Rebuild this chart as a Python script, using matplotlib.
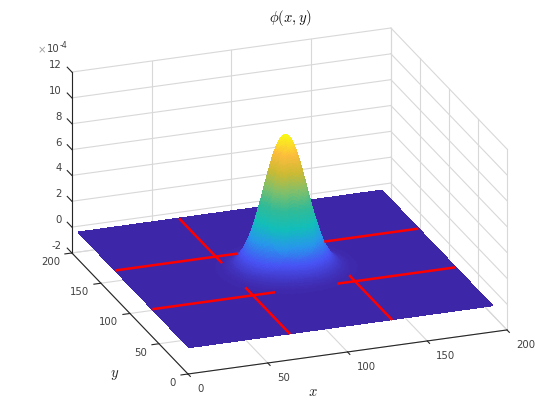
import numpy as np
import matplotlib
matplotlib.use("Agg")
import matplotlib.pyplot as plt
from matplotlib.colors import LinearSegmentedColormap, Normalize
from mpl_toolkits.mplot3d import proj3d

# ---- data ----
x_ticks = [0, 50, 100, 150, 200]
y_ticks = [0, 50, 100, 150, 200]
z_ticks = [-2, 0, 2, 4, 6, 8, 10, 12]
peak_centre = 96
peak_height = 10.35
# distance from the bump's centre and its height there, relative to the top
bump_dist = np.concatenate([np.arange(0, 30, 0.5), np.arange(30, 51)])
bump_rel = [1.000, .9992, .9968, .9928, .9873, .9802, .9716, .9616, .9501, .9373,
            .9231, .9077, .8912, .8735, .8549, .8353, .8149, .7936, .7717, .7491,
            .7261, .7027, .6788, .6550, .6308, .6065, .5823, .5581, .5341, .5103,
            .4868, .4636, .4408, .4184, .3966, .3753, .3546, .3345, .3150, .2962,
            .2780, .2606, .2438, .2278, .2125, .1979, .1840, .1708, .1583, .1465,
            .1353, .1248, .1149, .1057, .0970, .0889, .0814, .0743, .0678, .0617,
            .0561, .0462, .0377, .0307, .0247, .0198, .0158, .0125, .0098, .0077,
            .0060, .0046, .0035, .0027, .0020, .0015, .0011, .0008, .0006, .0004,
            .0003]
plane_left = np.arange(1, 46, 2)
plane_right = np.arange(147, 192, 2)
# visible pieces of the red lines: (fixed coordinate, start, end)
red_along_x = [(128, 1, 78), (128, 132, 191), (64, 1, 78), (64, 117, 191)]
red_along_y = [(64, 117, 191), (64, 0, 77), (128, 0, 74)]
parula_stops = [(.2422, .1504, .6603), (.2810, .3228, .9579), (.1540, .5902, .9218),
                (.0704, .7457, .7258), (.1959, .7310, .5900), (.5000, .7500, .4200),
                (.8000, .7300, .2000), (.9900, .7400, .2400), (.9769, .9839, .0805)]

# ---- surface table ----
rel = np.array(bump_rel)
axis_vals = np.concatenate([plane_left, peak_centre - bump_dist[:0:-1],
                            peak_centre + bump_dist, plane_right])
axis_prof = np.concatenate([np.zeros(plane_left.size), rel[:0:-1], rel,
                            np.zeros(plane_right.size)])
Z = peak_height * np.outer(axis_prof, axis_prof)
X, Y = np.meshgrid(axis_vals, axis_vals)

# ---- figure ----
TXT = "#404040"
GRID = "#d8d8d8"
AXC = "#262626"
FS = 7.3
plt.rcParams["mathtext.fontset"] = "cm"
W, H = 560, 420
fig = plt.figure(figsize=(W / 100, H / 100), dpi=100)
ax = fig.add_axes([0.1, 0.1, 0.8, 0.8 * W / H], projection="3d", proj_type="ortho",
                  computed_zorder=False)
ax.view_init(elev=22.3, azim=-110)
ax.set_box_aspect((1, 1, 0.576))
ax.set_xlim(0, 200, view_margin=0)
ax.set_ylim(0, 200, view_margin=0)
ax.set_zlim(-2, 12, view_margin=0)
ax.set_axis_off()


def to_px(x, y, z):
    u, v, _ = proj3d.proj_transform(x, y, z, ax.get_proj())
    p = ax.transData.transform((u, v))
    return np.array([p[0], H - p[1]])


# place the box so its corners land where the reference has them
target_a = np.array([188.0, 374.0])   # x=0,   y=0,   z=-2
target_b = np.array([507.0, 330.0])   # x=200, y=0,   z=-2
for _ in range(3):
    fig.canvas.draw()
    a, b = to_px(0, 0, -2), to_px(200, 0, -2)
    pos = ax.get_position(original=True)
    scale = (target_b[0] - target_a[0]) / (b[0] - a[0])
    w_px, h_px = pos.width * W * scale, pos.height * H * scale
    cx = pos.x0 * W + pos.width * W / 2
    cy = H - (pos.y0 * H + pos.height * H / 2)
    new_cx = target_a[0] + (cx - a[0]) * scale
    new_cy = target_a[1] + (cy - a[1]) * scale
    ax.set_position([(new_cx - w_px / 2) / W, (H - new_cy - h_px / 2) / H, w_px / W, h_px / H])
fig.canvas.draw()


def label_px(px, py, s, ha):
    fig.text(px / W, 1 - py / H, s, color=TXT, fontsize=FS, ha=ha, va="center")


# grid lines on floor and the two back walls
gkw = dict(color=GRID, lw=0.8, zorder=1)
for t in x_ticks:
    ax.plot([t, t], [0, 200], [-2, -2], **gkw)
    ax.plot([t, t], [200, 200], [-2, 12], **gkw)
for t in y_ticks:
    ax.plot([0, 200], [t, t], [-2, -2], **gkw)
    ax.plot([200, 200], [t, t], [-2, 12], **gkw)
for t in z_ticks:
    ax.plot([0, 200], [200, 200], [t, t], **gkw)
    ax.plot([200, 200], [0, 200], [t, t], **gkw)

# surface
parula = LinearSegmentedColormap.from_list("parula_like", parula_stops, N=256)
colors = parula(Normalize(0, peak_height)(Z))
ax.plot_surface(X, Y, Z, rstride=1, cstride=1, facecolors=colors, shade=False,
                antialiased=False, linewidth=0.5, zorder=2)

# red lines
rkw = dict(color="#ff0000", lw=1.8, zorder=3, solid_capstyle="butt")
for y0, s, e in red_along_x:
    ax.plot([s, e], [y0, y0], [0, 0], **rkw)
for x0, s, e in red_along_y:
    ax.plot([x0, x0], [s, e], [0, 0], **rkw)

# axes lines, ticks and tick labels
akw = dict(color=AXC, lw=0.8, zorder=4)
ax.plot([0, 200], [0, 0], [-2, -2], **akw)
ax.plot([0, 0], [0, 200], [-2, -2], **akw)
ax.plot([0, 0], [200, 200], [-2, 12], **akw)
for t in x_ticks:
    ax.plot([t, t], [0, -4], [-2, -2], **akw)
    p = to_px(t, 0, -2)
    label_px(p[0] + 9, p[1] + 15.5, str(t), "left")
for t in y_ticks:
    ax.plot([0, -4.4], [t, t], [-2, -2], **akw)
    p = to_px(0, t, -2)
    label_px(p[0] - 12, p[1] + 9, str(t), "right")
for t in z_ticks:
    ax.plot([0, 0], [200, 208], [t, t], **akw)
    p = to_px(0, 200, t)
    label_px(p[0] - 10, p[1] - 7, str(t), "right")

# texts
fig.text(290 / W, 1 - 18 / H, r"$\phi(x,y)$", fontsize=10.5, ha="center", va="center", color="#111111")
fig.text(313 / W, 1 - 392 / H, r"$x$", fontsize=10.5, ha="center", va="center", color="#222222")
fig.text(115 / W, 1 - 374 / H, r"$y$", fontsize=10.5, ha="center", va="center", color="#222222")
fig.text(42 / W, 1 - 50 / H, "\u00d7", fontsize=FS, ha="center", va="center", color="#a0a0a0")
fig.text(47 / W, 1 - 49.5 / H, "10", fontsize=FS, ha="left", va="center", color=TXT)
fig.text(59.5 / W, 1 - 46 / H, "-4", fontsize=5.6, ha="left", va="center", color=TXT)

fig.savefig("out.png", dpi=100)
